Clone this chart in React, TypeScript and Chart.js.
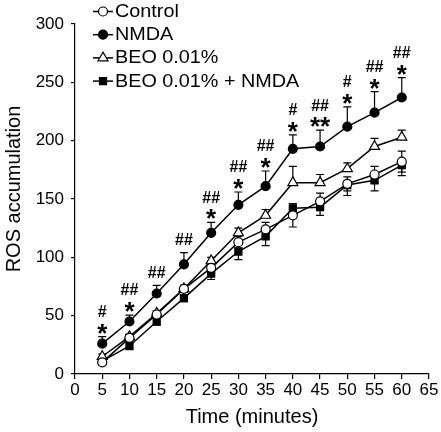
import React, { useEffect, useRef } from "react";
import { Chart, registerables } from "chart.js";

Chart.register(...registerables);

const times = [5, 10, 15, 20, 25, 30, 35, 40, 45, 50, 55, 60];
const seriesLabels = ["Control", "NMDA", "BEO 0.01%", "BEO 0.01% + NMDA"];

const controlValues = [10, 31, 51, 73, 91, 113, 124, 136, 148, 163, 171, 182];
const nmdaValues = [26, 45, 69, 94, 121, 145, 161, 193, 195, 212, 224, 237];
const beoValues = [15, 32, 52, 73, 97, 121, 136, 164, 164, 176, 195, 203];
const beoNmdaValues = [11, 24, 45, 65, 86, 105, 118, 142, 143, 162, 166, 179];

const controlErrors = [2, 3, 3, 3, 4, 5, 6, 10, 7, 6, 7, 9];
const nmdaErrors = [6, 5.5, 7, 10, 9, 11, 13, 12, 14, 17, 18, 17];
const beoErrors = [2, 2, 2, 2, 3, 4, 5, 14, 7, 5, 7, 6];
const beoNmdaErrors = [2, 2, 3, 3, 5, 7, 8, 6, 7, 9, 9, 9];

const starMarks = ["*", "*", "", "", "*", "*", "*", "*", "**", "*", "*", "*"];
const hashMarks = ["#", "##", "##", "##", "##", "##", "##", "#", "##", "#", "##", "##"];

const xTitle = "Time (minutes)";
const yTitle = "ROS accumulation";
const xTickMax = 65;
const yTickMax = 300;

const FONT = "'Liberation Sans', Arial, Helvetica, sans-serif";

function drawMarker(ctx: CanvasRenderingContext2D, style: string, r: number, bg: string, x: number, y: number) {
  ctx.save();
  ctx.fillStyle = bg;
  ctx.strokeStyle = "#000";
  ctx.lineWidth = 1.2;
  ctx.beginPath();
  if (style === "circle") {
    ctx.arc(x, y, r, 0, Math.PI * 2);
  } else if (style === "triangle") {
    for (let k = 0; k < 3; k++) {
      const a = -Math.PI / 2 + (k * 2 * Math.PI) / 3;
      const px = x + Math.cos(a) * r;
      const py = y + Math.sin(a) * r;
      if (k === 0) ctx.moveTo(px, py);
      else ctx.lineTo(px, py);
    }
    ctx.closePath();
  } else {
    const s = Math.SQRT1_2 * r;
    ctx.rect(x - s, y - s, 2 * s, 2 * s);
  }
  ctx.fill();
  ctx.stroke();
  ctx.restore();
}

export default function App() {
  const ref = useRef<HTMLCanvasElement>(null);

  useEffect(() => {
    if (!ref.current) return;

    const styles = [
      { pointStyle: "circle", radius: 4.5, bg: "#fff", values: controlValues, errors: controlErrors, dir: "both" },
      { pointStyle: "circle", radius: 4.5, bg: "#000", values: nmdaValues, errors: nmdaErrors, dir: "up" },
      { pointStyle: "triangle", radius: 5.8, bg: "#fff", values: beoValues, errors: beoErrors, dir: "up" },
      { pointStyle: "rect", radius: 5, bg: "#000", values: beoNmdaValues, errors: beoNmdaErrors, dir: "down" },
    ];

    const datasets = styles.map((s, k) => ({
      label: seriesLabels[k],
      data: times.map((t, i) => ({ x: t, y: s.values[i] })),
      borderColor: "#000",
      borderWidth: 1.5,
      pointStyle: s.pointStyle as any,
      pointRadius: s.radius,
      pointBackgroundColor: s.bg,
      pointBorderColor: "#000",
      pointBorderWidth: 1.2,
      fill: false,
      tension: 0,
    }));

    const errorBars = {
      id: "errorBars",
      beforeDatasetsDraw(chart: any) {
        const ctx = chart.ctx;
        const xs = chart.scales.x;
        const ys = chart.scales.y;
        ctx.save();
        ctx.strokeStyle = "#000";
        ctx.lineWidth = 1.2;
        styles.forEach((s) => {
          s.values.forEach((v, i) => {
            const e = s.errors[i];
            const px = xs.getPixelForValue(times[i]);
            const ends: number[] = [];
            if (s.dir === "up" || s.dir === "both") ends.push(v + e);
            if (s.dir === "down" || s.dir === "both") ends.push(v - e);
            ends.forEach((end) => {
              const py0 = ys.getPixelForValue(v);
              const py1 = ys.getPixelForValue(end);
              ctx.beginPath();
              ctx.moveTo(px, py0);
              ctx.lineTo(px, py1);
              ctx.moveTo(px - 4, py1);
              ctx.lineTo(px + 4, py1);
              ctx.stroke();
            });
          });
        });
        ctx.restore();
      },
    };

    const significance = {
      id: "significance",
      afterDatasetsDraw(chart: any) {
        const ctx = chart.ctx;
        const xs = chart.scales.x;
        const ys = chart.scales.y;
        ctx.save();
        ctx.fillStyle = "#000";
        ctx.textAlign = "center";
        times.forEach((t, i) => {
          const px = xs.getPixelForValue(t);
          let y = ys.getPixelForValue(nmdaValues[i] + nmdaErrors[i]) - 10;
          if (starMarks[i]) {
            ctx.font = `bold 26px ${FONT}`;
            ctx.textBaseline = "alphabetic";
            ctx.fillText(starMarks[i], px, y + 15);
            y -= 14;
          } else {
            y -= 2;
          }
          if (hashMarks[i]) {
            ctx.font = `bold 16px ${FONT}`;
            ctx.textBaseline = "middle";
            ctx.fillText(hashMarks[i], px, y);
          }
        });
        ctx.restore();
      },
    };

    const texts = {
      id: "customTexts",
      afterDraw(chart: any) {
        const ctx = chart.ctx;
        ctx.save();
        styles.forEach((s, k) => {
          const cy = 11.5 + k * 23.2;
          ctx.strokeStyle = "#000";
          ctx.lineWidth = 1.5;
          ctx.beginPath();
          ctx.moveTo(93, cy);
          ctx.lineTo(113, cy);
          ctx.stroke();
          drawMarker(ctx, s.pointStyle, s.radius, s.bg, 103, cy);
          ctx.save();
          ctx.translate(115, cy + 0.5);
          ctx.scale(1.1, 1);
          ctx.fillStyle = "#000";
          ctx.font = `18px ${FONT}`;
          ctx.textAlign = "left";
          ctx.textBaseline = "middle";
          ctx.fillText(seriesLabels[k], 0, 0);
          ctx.restore();
        });
        // y-axis title
        ctx.save();
        ctx.translate(19.5, 189);
        ctx.rotate(-Math.PI / 2);
        ctx.fillStyle = "#000";
        ctx.font = `20px ${FONT}`;
        ctx.textAlign = "center";
        ctx.textBaseline = "alphabetic";
        ctx.fillText(yTitle, 0, 0);
        ctx.restore();
        ctx.restore();
      },
    };

    const chart = new Chart(ref.current, {
      type: "line",
      data: { datasets: datasets as any },
      options: {
        animation: false,
        responsive: false,
        devicePixelRatio: 1,
        layout: { padding: { left: 0, right: 12, top: 24, bottom: 0 } },
        plugins: { legend: { display: false }, tooltip: { enabled: false } },
        scales: {
          x: {
            type: "linear",
            min: 0,
            max: xTickMax,
            afterFit: (s: any) => {
              s.height = 58;
            },
            ticks: {
              stepSize: 5,
              autoSkip: false,
              maxRotation: 0,
              color: "#000",
              font: { family: FONT, size: 17 },
              padding: 1,
            },
            grid: { drawOnChartArea: false, drawTicks: true, tickLength: 5, color: "#000", lineWidth: 1.2 },
            border: { color: "#000", width: 1.2 },
            title: {
              display: true,
              text: xTitle,
              color: "#000",
              font: { family: FONT, size: 20 },
              padding: { top: 0, bottom: 3 },
            },
          },
          y: {
            min: 0,
            max: yTickMax,
            afterFit: (s: any) => {
              s.width = 75;
            },
            ticks: {
              stepSize: 50,
              color: "#000",
              font: { family: FONT, size: 17 },
              padding: 7,
            },
            grid: { drawOnChartArea: false, drawTicks: true, tickLength: 4, color: "#000", lineWidth: 1.2 },
            border: { color: "#000", width: 1.2 },
            title: { display: false },
          },
        },
      },
      plugins: [errorBars, significance, texts],
    });

    return () => chart.destroy();
  }, []);

  return (
    <div style={{ position: "absolute", left: 0, top: 0, width: 441, height: 432, background: "#fff" }}>
      <canvas ref={ref} width={441} height={432} />
    </div>
  );
}
